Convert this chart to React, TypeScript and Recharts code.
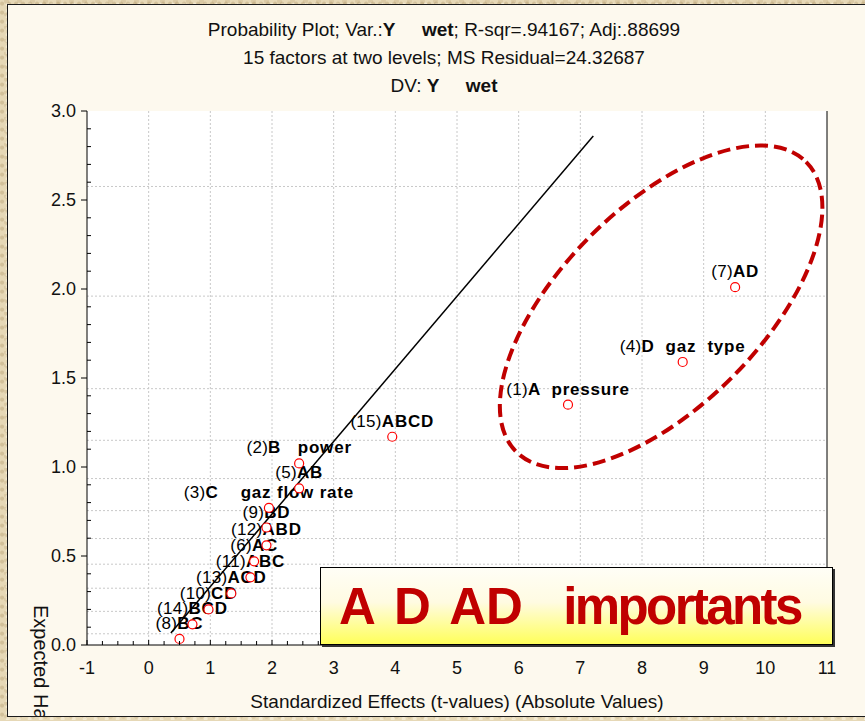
import React from 'react';
import { ScatterChart, Scatter, XAxis, YAxis, CartesianGrid, ReferenceLine, ReferenceDot } from 'recharts';

const FONT = '"Liberation Sans", Arial, sans-serif';

// effects, sorted by expected half-normal value
const effectIds = ['(8)', '(14)', '(10)', '(13)', '(11)', '(6)', '(12)', '(9)', '(3)', '(5)', '(2)', '(15)', '(1)', '(4)', '(7)'];
const effectNames = ['BC', 'BCD', 'CD', 'ACD', 'ABC', 'AC', 'ABD', 'BD', 'C    gaz flow rate', 'AB', 'B   power', 'ABCD', 'A  pressure', 'D  gaz  type', 'AD'];
const tValues = [0.5, 0.71, 0.97, 1.34, 1.65, 1.71, 1.91, 1.91, 1.95, 2.44, 2.44, 3.95, 6.8, 8.66, 9.51];
const expectedValues = [0.034, 0.116, 0.2, 0.29, 0.38, 0.47, 0.56, 0.66, 0.77, 0.88, 1.02, 1.17, 1.35, 1.59, 2.01];

// fitted line end points
const fitT = [0.36, 7.21];
const fitE = [0.067, 2.86];

// hand drawn ellipse around A, D, AD
const ellipseCenter = [8.31, 1.9];

const xLabels = [-1, 0, 1, 2, 3, 4, 5, 6, 7, 8, 9, 10, 11];
const gridX = [0, 1, 2, 3, 4, 5, 6, 7, 8, 9, 10];
const yLabels = [0, 0.5, 1, 1.5, 2, 2.5, 3];
const probValues = [0.063, 0.189, 0.319, 0.454, 0.598, 0.755, 0.935, 1.15, 1.44, 1.96, 2.576];
const probLabels = ['.05', '', '.25', '', '.45', '', '.65', '.75', '.85', '.95', '.99'];

const xMinor = Array.from({ length: 49 }, (_, i) => -1 + i * 0.25);
const yMinor = Array.from({ length: 31 }, (_, i) => i / 10);
const rightTicks = [...yMinor, ...probValues].sort((a, b) => a - b);

const points = tValues.map((t, i) => ({ t, e: expectedValues[i], id: effectIds[i], name: effectNames[i] }));

const tickText = { fontSize: 18, fill: '#111', fontFamily: FONT };

function BottomTick({ x, y, payload }: any) {
  const v = payload.value;
  const major = xLabels.includes(v);
  return (
    <g>
      <line x1={x} y1={y} x2={x} y2={y - (major ? 5 : 4)} stroke="#000" />
      {major && (
        <text x={x} y={y + 29} textAnchor="middle" {...tickText}>{v}</text>
      )}
    </g>
  );
}

function TopTick({ x, y }: any) {
  return <line x1={x} y1={y} x2={x} y2={y + 4} stroke="#000" />;
}

function LeftTick({ x, y, payload }: any) {
  const v = payload.value;
  const major = yLabels.some((l) => Math.abs(l - v) < 1e-6);
  if (!major) return <line x1={x} y1={y} x2={x + 4} y2={y} stroke="#000" />;
  return (
    <g>
      <line x1={x - 6} y1={y} x2={x} y2={y} stroke="#000" />
      <text x={x - 11} y={y} dy="0.35em" textAnchor="end" {...tickText}>{v.toFixed(1)}</text>
    </g>
  );
}

function RightTick({ x, y, payload }: any) {
  const v = payload.value;
  const idx = probValues.indexOf(v);
  if (idx < 0) return <line x1={x} y1={y} x2={x - 4} y2={y} stroke="#000" />;
  return (
    <g>
      <line x1={x} y1={y} x2={x + 3} y2={y} stroke="#000" />
      {probLabels[idx] && (
        <text x={x + 8} y={y} dy="0.35em" textAnchor="start" {...tickText}>{probLabels[idx]}</text>
      )}
    </g>
  );
}

function EffectLabel({ cx, cy, payload }: any) {
  return (
    <text x={cx} y={cy - 10} textAnchor="middle" fontSize={17} fontFamily={FONT} fill="#000" xmlSpace="preserve" style={{ whiteSpace: 'pre' }}>
      <tspan letterSpacing={0.3}>{payload.id}</tspan>
      <tspan fontWeight="bold" letterSpacing={0.8}>{payload.name}</tspan>
    </text>
  );
}

function EffectDot({ cx, cy }: any) {
  return <circle cx={cx} cy={cy} r={4.5} fill="#fff" stroke="#ff0000" strokeWidth={1.2} />;
}

function EllipseShape({ cx, cy }: any) {
  return (
    <ellipse
      cx={cx}
      cy={cy}
      rx={205}
      ry={100}
      transform={`rotate(-45 ${cx} ${cy})`}
      fill="none"
      stroke="#c00000"
      strokeWidth={4}
      strokeDasharray="13 6"
    />
  );
}

const texture =
  'radial-gradient(circle at 30% 40%, rgba(150,120,70,0.25) 0 1.5px, transparent 2.5px),' +
  'radial-gradient(circle at 70% 80%, rgba(255,250,235,0.5) 0 1.5px, transparent 2.5px),' +
  'radial-gradient(circle at 50% 10%, rgba(170,140,90,0.2) 0 2px, transparent 3px)';

export default function App() {
  return (
    <div
      style={{
        position: 'absolute',
        left: 0,
        top: 0,
        width: 865,
        height: 721,
        overflow: 'hidden',
        backgroundColor: '#e6d8b6',
        backgroundImage: texture,
        backgroundSize: '7px 9px, 11px 6px, 13px 13px',
        fontFamily: FONT,
      }}
    >
      <div
        style={{
          position: 'absolute',
          left: 7,
          top: 4,
          width: 880,
          height: 711,
          background: '#fdf9ee',
          border: '1.5px solid #1a1a1a',
          overflow: 'hidden',
        }}
      >
        <div
          style={{
            position: 'absolute',
            left: 23,
            top: 600,
            writingMode: 'vertical-rl',
            fontSize: 20,
            lineHeight: '20px',
            color: '#111',
            whiteSpace: 'nowrap',
          }}
        >
          Expected Half-Normal Values
        </div>
      </div>

      <div style={{ position: 'absolute', left: 0, width: 888, top: 16, textAlign: 'center', fontSize: 19, color: '#111', whiteSpace: 'pre', lineHeight: '28px' }}>
        <div>Probability Plot; Var.:<b>Y</b>     <b>wet</b>; R-sqr=.94167; Adj:.88699</div>
        <div>15 factors at two levels; MS Residual=24.32687</div>
        <div>DV: <b>Y</b>     <b>wet</b></div>
      </div>

      <ScatterChart
        width={865}
        height={721}
        margin={{ top: 111, right: 0, bottom: 0, left: 37 }}
        style={{ position: 'absolute', left: 0, top: 0 }}
      >
        <CartesianGrid
          fill="#ffffff"
          stroke="#c8c8c8"
          strokeDasharray="2 2"
          verticalValues={gridX}
          horizontalValues={probValues}
        />
        <XAxis
          type="number"
          dataKey="t"
          domain={[-1, 11]}
          ticks={xMinor}
          interval={0}
          height={76}
          tickSize={0}
          tickMargin={0}
          tickLine={false}
          axisLine={{ stroke: '#000' }}
          tick={BottomTick}
          label={{
            value: 'Standardized Effects (t-values) (Absolute Values)',
            position: 'insideBottom',
            offset: 13,
            fill: '#111',
            fontSize: 19,
            fontFamily: FONT,
          }}
        />
        <XAxis
          xAxisId="top"
          orientation="top"
          type="number"
          domain={[-1, 11]}
          ticks={xMinor}
          interval={0}
          height={0}
          tickSize={0}
          tickMargin={0}
          tickLine={false}
          axisLine={{ stroke: '#000' }}
          tick={TopTick}
        />
        <YAxis
          type="number"
          dataKey="e"
          domain={[0, 3]}
          ticks={yMinor}
          interval={0}
          width={50}
          tickSize={0}
          tickMargin={0}
          tickLine={false}
          axisLine={{ stroke: '#000' }}
          tick={LeftTick}
        />
        <YAxis
          yAxisId="right"
          orientation="right"
          type="number"
          domain={[0, 3]}
          ticks={rightTicks}
          interval={0}
          width={38}
          tickSize={0}
          tickMargin={0}
          tickLine={false}
          axisLine={{ stroke: '#000' }}
          tick={RightTick}
        />
        <ReferenceLine
          segment={[
            { x: fitT[0], y: fitE[0] },
            { x: fitT[1], y: fitE[1] },
          ]}
          stroke="#000"
          strokeWidth={1.5}
          ifOverflow="visible"
        />
        <ReferenceDot x={ellipseCenter[0]} y={ellipseCenter[1]} r={1} shape={EllipseShape} ifOverflow="visible" />
        <Scatter data={points} dataKey="e" shape={EffectLabel} isAnimationActive={false} />
        <Scatter data={points} dataKey="e" shape={EffectDot} isAnimationActive={false} />
      </ScatterChart>

      <div
        style={{
          position: 'absolute',
          left: 320,
          top: 567,
          width: 513,
          height: 78,
          border: '1.5px solid #000',
          boxShadow: '2px 2px 0 #333',
          background: 'linear-gradient(to bottom, #fffef6 0%, #fffbe2 45%, #ffff5a 100%)',
          color: '#c00000',
          fontWeight: 'bold',
          fontSize: 51,
          lineHeight: '78px',
          paddingLeft: 18,
          boxSizing: 'border-box',
          whiteSpace: 'pre',
          wordSpacing: 6,
        }}
      >
        A D AD  <span style={{ letterSpacing: -2.6 }}>importants</span>
      </div>
    </div>
  );
}
